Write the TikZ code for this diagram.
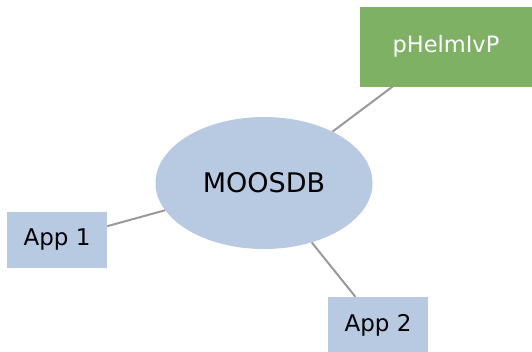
\documentclass[tikz,border=0pt]{standalone}
\usepackage{fontspec}
\setmainfont{DejaVu Sans}
\usetikzlibrary{shapes.geometric}
\definecolor{nodeblue}{HTML}{B8C9E2}
\definecolor{helmgreen}{HTML}{7EB164}
\definecolor{linkgray}{HTML}{999999}
\tikzset{
  appbox/.style={rectangle, fill=nodeblue, inner sep=0pt, minimum width=100pt, minimum height=56pt, font=\fontsize{23}{27}\selectfont},
  dbnode/.style={ellipse, fill=nodeblue, inner sep=0pt, minimum width=217pt, minimum height=132pt, font=\fontsize{27}{32}\selectfont},
  helmbox/.style={rectangle, fill=helmgreen, text=white, inner sep=0pt, minimum width=172pt, minimum height=80pt, font=\fontsize{22.5}{26}\selectfont},
  link/.style={draw=linkgray, line width=2pt}
}
\begin{document}
\begin{tikzpicture}[x=1pt,y=-1pt]
\useasboundingbox (0,0) rectangle (532,351);
\clip (0,0) rectangle (532,351);
\node[dbnode] (db) at (264,183) {MOOSDB};
\node[helmbox] (helm) at (446,46.5) {pHelmIvP};
\node[appbox] (app1) at (57,240) {App 1};
\node[appbox] (app2) at (378,325) {App 2};
\draw[link] (db) -- (helm);
\draw[link] (db) -- (app1);
\draw[link] (db) -- (app2);
\end{tikzpicture}
\end{document}
